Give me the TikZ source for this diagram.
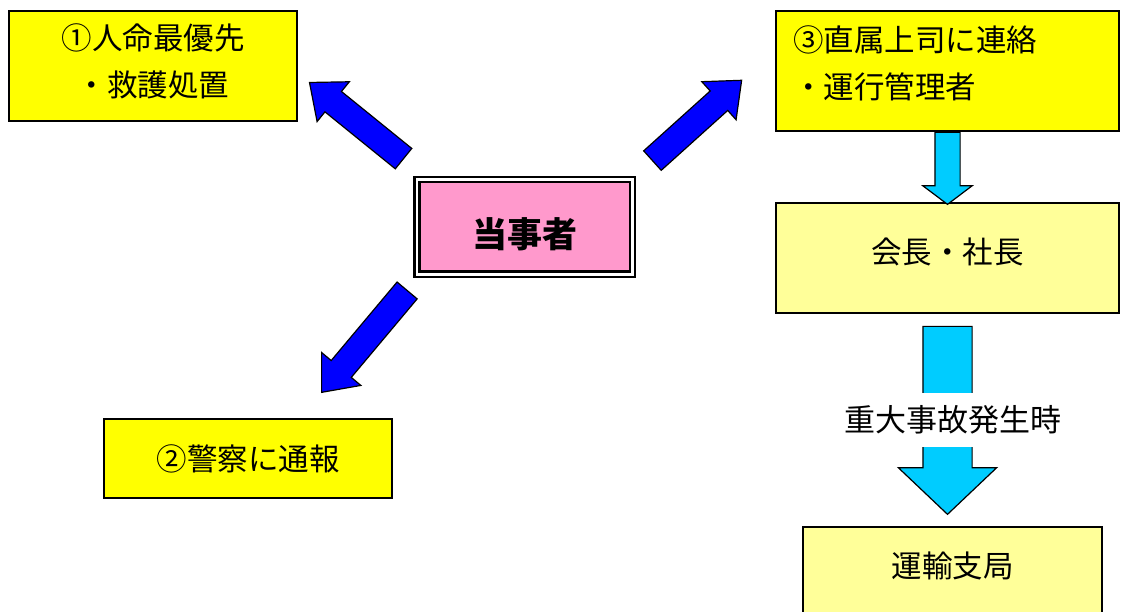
\documentclass[tikz,border=0pt]{standalone}
\usepackage{fontspec}
\setmainfont{Noto Sans CJK JP}
\usetikzlibrary{shapes.arrows}
\definecolor{boxyellow}{HTML}{FFFF00}
\definecolor{paleyellow}{HTML}{FFFF99}
\definecolor{partypink}{HTML}{FF99CC}
\definecolor{arrowblue}{HTML}{0000FF}
\definecolor{arrowcyan}{HTML}{00CCFF}
\tikzset{
  box/.style={draw=black, line width=1.5pt, inner sep=0pt,
    font=\fontsize{30.5pt}{47pt}\selectfont},
  bluearrow/.style={single arrow, draw=black, fill=arrowblue, line width=1.2pt,
    inner xsep=0pt, inner ysep=12.5pt, minimum width=50pt, single arrow head extend=12.5pt,
    single arrow tip angle=80, anchor=tail},
  cyanarrow/.style={single arrow, draw=black, fill=arrowcyan, line width=1.2pt,
    inner xsep=0pt, anchor=tail, rotate=-90}
}
\begin{document}
\begin{tikzpicture}[x=1pt,y=-1pt]
  \useasboundingbox (0,0) rectangle (1121,612);
  % boxes
  \node[box, fill=boxyellow, minimum width=288pt, minimum height=110pt, align=center,
    text depth=12pt] (life) at (153,66) {①人命最優先\\・救護処置};
  \node[box, fill=boxyellow, minimum width=288pt, minimum height=79pt]
    (police) at (248,458.5) {②警察に通報};
  \node[box, fill=boxyellow, minimum height=120pt, text width=309pt, inner xsep=17pt, align=left,
    text depth=64pt] (boss) at (947.5,71) {③直属上司に連絡\\・運行管理者};
  \node[box, fill=paleyellow, minimum width=343pt, minimum height=110pt, text depth=14pt]
    (chief) at (947.5,258) {会長・社長};
  \node[box, fill=paleyellow, minimum width=299pt, minimum height=100pt, text depth=24pt]
    (bureau) at (952.5,577) {運輸支局};
  \node[draw=black, fill=partypink, double=white, double distance=2.5pt, line width=2.5pt,
    minimum width=215.5pt, minimum height=94.5pt, inner sep=0pt, text height=45pt,
    font=\fontsize{35pt}{40pt}\selectfont\bfseries]
    (party) at (524.5,227) {当事者};
  % arrows
  \node[bluearrow, rotate=141, minimum height=121pt] (a1) at (404,159) {};
  \node[bluearrow, rotate=230, minimum height=133pt] (a2) at (407.5,290) {};
  \node[bluearrow, rotate=42, minimum height=120pt] (a3) at (652,161) {};
  \node[cyanarrow, minimum height=72pt, inner ysep=12pt, minimum width=48pt,
    single arrow head extend=12pt, single arrow tip angle=106] (c1) at (boss.south) {};
  \node[cyanarrow, minimum height=188pt, inner ysep=24pt, minimum width=97pt,
    single arrow head extend=24.5pt, single arrow tip angle=93] (c2) at ([yshift=-12pt]chief.south) {};
  \node[fill=white, inner xsep=2pt, inner ysep=13pt, font=\fontsize{31pt}{36pt}\selectfont]
    (serious) at (953,420) {重大事故発生時};
\end{tikzpicture}
\end{document}
